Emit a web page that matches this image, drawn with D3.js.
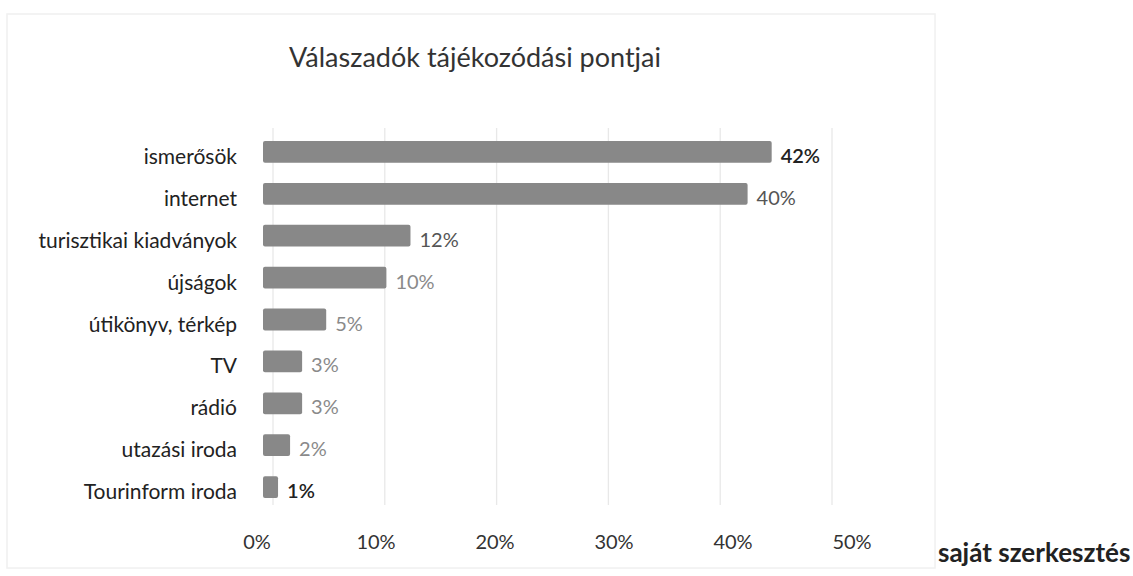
<!DOCTYPE html>
<html>
<head>
<meta charset="utf-8">
<script src="https://cdn.jsdelivr.net/npm/d3@7"></script>
<style>
  body { margin: 0; background: #fff; }
  text { font-family: Lato, "Open Sans", sans-serif; }
</style>
</head>
<body>
<script>
// data
var categories = ["ismerősök", "internet", "turisztikai kiadványok", "újságok",
                  "útikönyv, térkép", "TV", "rádió", "utazási iroda", "Tourinform iroda"];
var values = [42, 40, 12, 10, 5, 3, 3, 2, 1];
var tickValues = [0, 10, 20, 30, 40, 50];
var title = "Válaszadók tájékozódási pontjai";
var source = "saját szerkesztés";

var width = 1133, height = 576;

var svg = d3.select("body")
        .append("svg")
        .attr("width", width)
        .attr("height", height);

// faint frame of the scanned chart area
svg.append("rect")
        .attr("x", 7).attr("y", 14)
        .attr("width", 928).attr("height", 554)
        .attr("fill", "none")
        .attr("stroke", "#f0f0f0")
        .attr("stroke-width", 1.5);

// scales: bars (front), grid (back wall), tick labels
var xBar = d3.scaleLinear().domain([0, 50]).range([266, 868]);
var xGrid = d3.scaleLinear().domain([0, 50]).range([273, 832]);
var xAxis = d3.scaleLinear().domain([0, 50]).range([257, 852]);

var y = d3.scaleBand()
        .domain(categories)
        .range([131, 508])
        .paddingInner(0.48)
        .paddingOuter(0.24);

// gridlines
svg.selectAll(".grid")
        .data(tickValues)
        .enter()
        .append("line")
        .attr("class", "grid")
        .attr("x1", function(d) { return xGrid(d); })
        .attr("x2", function(d) { return xGrid(d); })
        .attr("y1", 128)
        .attr("y2", 505)
        .attr("stroke", "#e8e8e8")
        .attr("stroke-width", 1.3);

// title
svg.append("text")
        .attr("x", 475)
        .attr("y", 67)
        .attr("text-anchor", "middle")
        .attr("font-size", 27)
        .attr("fill", "#333")
        .text(title);

// bars
svg.selectAll(".bar")
        .data(values)
        .enter()
        .append("rect")
        .attr("class", "bar")
        .attr("x", xBar(0) - 3)
        .attr("y", function(d, i) { return y(categories[i]); })
        .attr("width", function(d) { return xBar(d) - xBar(0) + 3; })
        .attr("height", y.bandwidth())
        .attr("rx", 2)
        .attr("fill", "#888888");

// category labels
svg.selectAll(".cat")
        .data(categories)
        .enter()
        .append("text")
        .attr("class", "cat")
        .attr("x", 237)
        .attr("y", function(d) { return y(d) + y.bandwidth() / 2 + 12; })
        .attr("text-anchor", "end")
        .attr("font-size", 21)
        .attr("fill", "#222")
        .text(function(d) { return d; });

// value labels
var dark = [0, 8];
svg.selectAll(".val")
        .data(values)
        .enter()
        .append("text")
        .attr("class", "val")
        .attr("x", function(d) { return xBar(d) + 9; })
        .attr("y", function(d, i) { return y(categories[i]) + y.bandwidth() / 2 + 11; })
        .attr("font-size", 20)
        .attr("font-weight", function(d, i) { return dark.indexOf(i) >= 0 ? 600 : 400; })
        .attr("fill", function(d, i) {
            if (dark.indexOf(i) >= 0) return "#222";
            return (i === 1 || i === 2) ? "#555" : "#8a8a8a";
        })
        .text(function(d) { return d + "%"; });

// x tick labels
svg.selectAll(".tick")
        .data(tickValues)
        .enter()
        .append("text")
        .attr("class", "tick")
        .attr("x", function(d) { return xAxis(d); })
        .attr("y", 549)
        .attr("text-anchor", "middle")
        .attr("font-size", 20)
        .attr("fill", "#333")
        .text(function(d) { return d + "%"; });

// source note
svg.append("text")
        .attr("x", 938)
        .attr("y", 562)
        .attr("font-size", 26)
        .attr("font-weight", 700)
        .attr("fill", "#222")
        .text(source);
</script>
</body>
</html>
